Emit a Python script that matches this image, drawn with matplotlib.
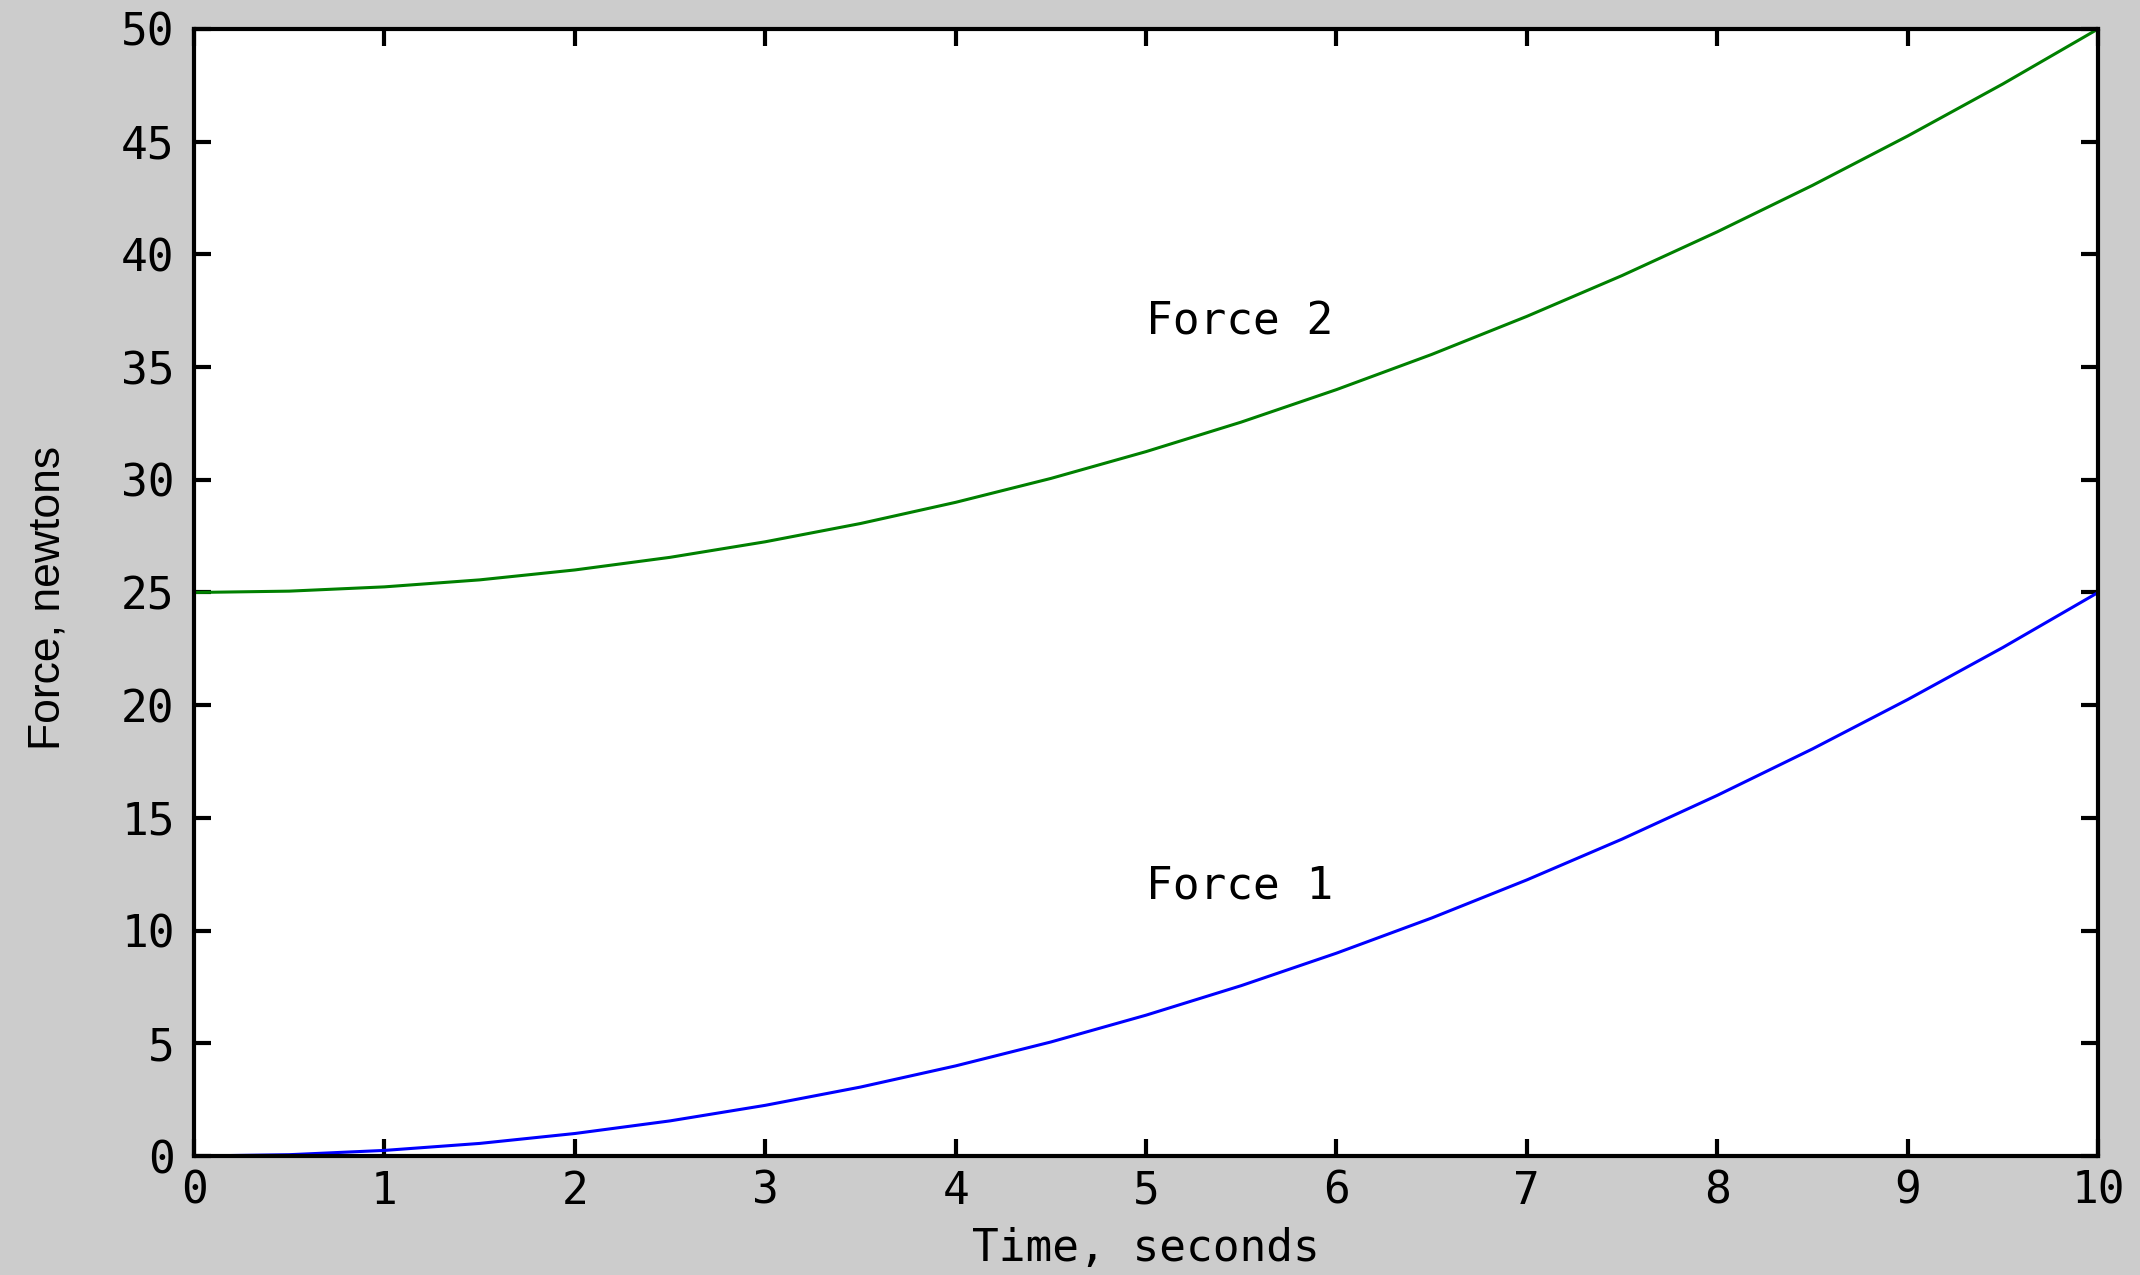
"""Two forces against time, drawn in the old boxed style."""
import matplotlib

matplotlib.use("Agg")
import matplotlib.pyplot as plt

# values every half second
time_s = [0, 0.5, 1, 1.5, 2, 2.5, 3, 3.5, 4, 4.5, 5, 5.5, 6, 6.5, 7, 7.5, 8, 8.5, 9, 9.5, 10]
force1 = [0, 0.06, 0.25, 0.56, 1.0, 1.56, 2.25, 3.06, 4.0, 5.06, 6.25,
          7.56, 9.0, 10.56, 12.25, 14.06, 16.0, 18.06, 20.25, 22.56, 25.0]
force2 = [25.0, 25.06, 25.25, 25.56, 26.0, 26.56, 27.25, 28.06, 29.0, 30.06, 31.25,
          32.56, 34.0, 35.56, 37.25, 39.06, 41.0, 43.06, 45.25, 47.56, 50.0]
x_ticks = list(range(0, 11))
y_ticks = list(range(0, 51, 5))

BG = "#cccccc"
MONO = ["DejaVu Sans Mono", "DejaVu Sans"]

plt.rcParams["font.family"] = MONO

fig = plt.figure(figsize=(21.4, 12.75), dpi=100, facecolor=BG)
ax = fig.add_axes([0.0907, 0.0933, 0.8897, 0.884])
ax.set_facecolor("white")

ax.plot(time_s, force1, color="#0000ff", lw=2.2)
ax.plot(time_s, force2, color="#008000", lw=2.2)

ax.text(5, 37, "Force 2", fontsize=32, va="center", ha="left")
ax.text(5, 12, "Force 1", fontsize=32, va="center", ha="left")

ax.set_xlim(0, 10)
ax.set_ylim(0, 50)
ax.set_xticks(x_ticks)
ax.set_yticks(y_ticks)
ax.tick_params(direction="in", length=12, width=3, labelsize=32,
               top=True, right=True)
ax.tick_params(axis="x", pad=10)
ax.tick_params(axis="y", pad=14)
for sp in ax.spines.values():
    sp.set_linewidth(3)

ax.set_xlabel("Time, seconds", fontsize=32, labelpad=10)
# the y label is a narrower, taller face in the original
ax.set_ylabel("Force, newtons", fontsize=32, family=["Liberation Sans", "DejaVu Sans"],
              va="center")
ax.yaxis.set_label_coords(-0.0767, 0.495)

fig.savefig("out.png", dpi=100, facecolor=BG)
